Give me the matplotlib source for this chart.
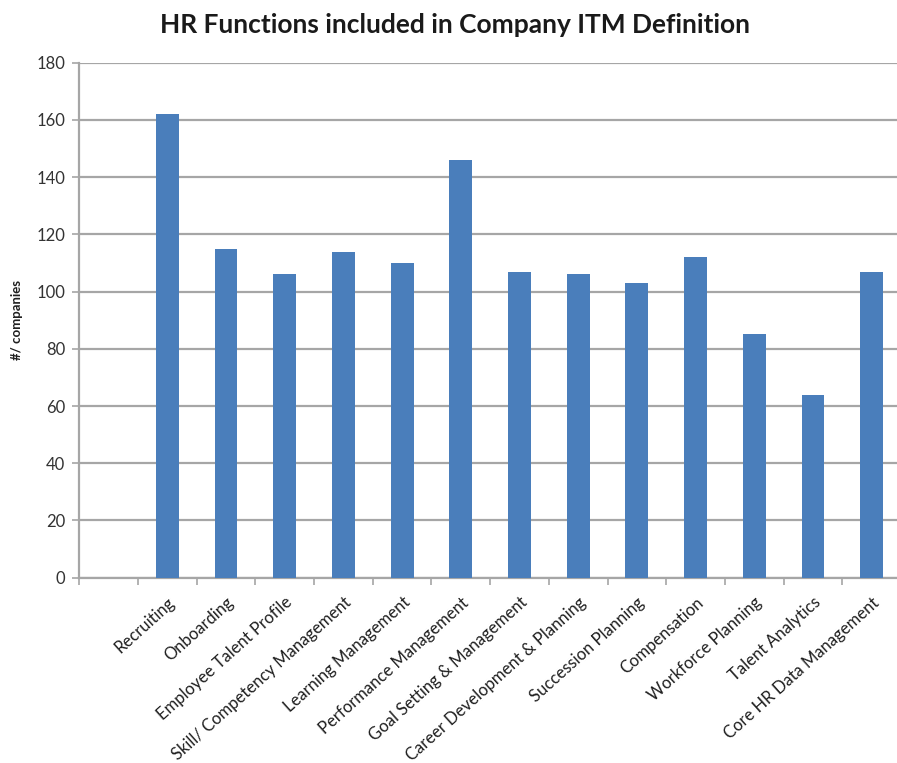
import matplotlib
matplotlib.use("Agg")
import matplotlib.pyplot as plt
import numpy as np

# HR function categories and number of companies including each in their ITM definition
functions = [
    "Recruiting",
    "Onboarding",
    "Employee Talent Profile",
    "Skill/ Competency Management",
    "Learning Management",
    "Performance Management",
    "Goal Setting & Management",
    "Career Development & Planning",
    "Succession Planning",
    "Compensation",
    "Workforce Planning",
    "Talent Analytics",
    "Core HR Data Management",
]
companies = [162, 115, 106, 114, 110, 146, 107, 106, 103, 112, 85, 64, 107]
y_ticks = [0, 20, 40, 60, 80, 100, 120, 140, 160, 180]

plt.rcParams["font.family"] = ["Lato", "DejaVu Sans"]

fig = plt.figure(figsize=(8.97, 7.63), dpi=100)
ax = fig.add_axes([0.0884, 0.2429, 0.9161, 0.6749])

x = np.arange(len(functions))
ax.bar(x, companies, width=0.39, color="#4A7EBB", zorder=3)

# leave one empty slot before the first category, as in the original sheet
ax.set_xlim(-1.5, len(functions) - 0.5)
ax.set_ylim(0, 180)
ax.set_yticks(y_ticks)
ax.yaxis.grid(True, color="#a6a6a6", linewidth=1.6, zorder=0)

ax.set_xticks(x)
ax.set_xticklabels(functions, rotation=42, ha="right", rotation_mode="anchor",
                   fontsize=12, color="#1f1f1f")
ax.set_xticks(np.arange(-1.5, len(functions)), minor=True)
ax.tick_params(axis="x", which="major", length=0, pad=12)
ax.tick_params(axis="x", which="minor", length=5, width=1.2, color="#a6a6a6",
               direction="out")
ax.tick_params(axis="y", length=5, width=1.2, color="#a6a6a6", labelsize=12,
               labelcolor="#333333", pad=5)

for side in ["top", "right"]:
    ax.spines[side].set_visible(False)
for side in ["left", "bottom"]:
    ax.spines[side].set_color("#a6a6a6")
    ax.spines[side].set_linewidth(1.6)

ax.set_ylabel("#/ companies", fontsize=9.5, fontweight="bold", color="#1f1f1f",
              labelpad=10)
fig.text(0.507, 0.967, "HR Functions included in Company ITM Definition",
         ha="center", va="center", fontsize=19, fontweight="bold",
         color="#1a1a1a")

fig.savefig("out.png", dpi=100)
